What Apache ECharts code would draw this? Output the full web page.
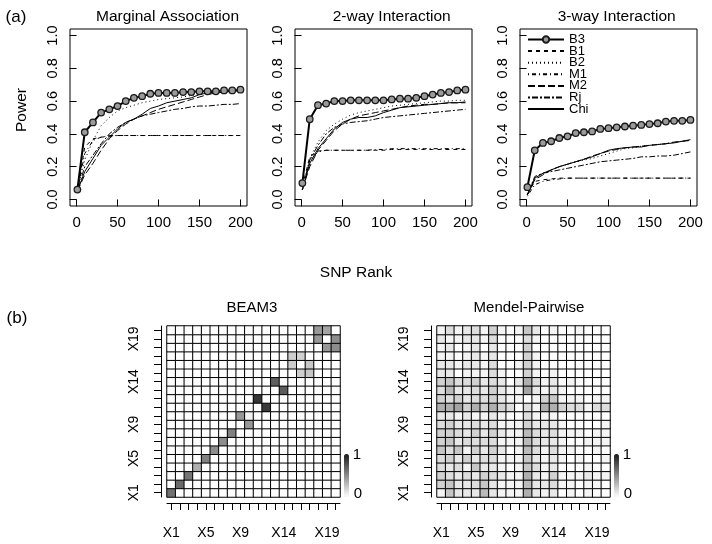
<!DOCTYPE html>
<html><head><meta charset="utf-8">
<script src="https://cdn.jsdelivr.net/npm/echarts@6/dist/echarts.min.js"></script>
<style>html,body{margin:0;padding:0;background:#fff}#c{width:712px;height:544px}</style>
</head><body><div id="c"></div>
<script>
// ---------- data ----------
const snpRank = [1,10,20,30,40,50,60,70,80,90,100,110,120,130,140,150,160,170,180,190,200];
const rankTicks = [0,50,100,150,200];
const powerTicks = [0,0.2,0.4,0.6,0.8,1.0];
const panelTitles = ['Marginal Association','2-way Interaction','3-way Interaction'];
const methods = ['B3','B1','B2','M1','M2','Rj','Chi'];

// Marginal association
const margB3  = [0.06,0.41,0.47,0.53,0.55,0.57,0.60,0.62,0.63,0.645,0.65,0.65,0.65,0.655,0.655,0.66,0.66,0.66,0.665,0.665,0.67];
const margB1  = [0.05,0.32,0.37,0.38,0.385,0.39,0.39,0.39,0.39,0.39,0.39,0.39,0.39,0.39,0.39,0.39,0.39,0.39,0.39,0.39,0.39];
const margB2  = [0.06,0.24,0.36,0.45,0.50,0.54,0.56,0.575,0.59,0.60,0.61,0.615,0.62,0.625,0.635,0.64,0.645,0.65,0.655,0.66,0.665];
const margM1  = [0.05,0.28,0.36,0.38,0.39,0.39,0.39,0.39,0.39,0.39,0.39,0.39,0.39,0.39,0.39,0.39,0.39,0.39,0.39,0.39,0.39];
const margM2  = [0.05,0.15,0.22,0.30,0.37,0.42,0.46,0.49,0.51,0.53,0.55,0.565,0.58,0.595,0.61,0.625,0.64,0.65,0.655,0.66,0.665];
const margRj  = [0.05,0.20,0.27,0.34,0.40,0.44,0.47,0.49,0.51,0.52,0.53,0.54,0.55,0.555,0.565,0.57,0.57,0.575,0.58,0.58,0.585];
const margChi = [0.05,0.17,0.25,0.33,0.38,0.43,0.47,0.49,0.52,0.555,0.57,0.59,0.60,0.61,0.62,0.64,0.65,0.655,0.66,0.66,0.665];

// 2-way interaction
const twoB3  = [0.10,0.49,0.575,0.585,0.60,0.60,0.605,0.605,0.605,0.605,0.605,0.61,0.615,0.615,0.62,0.63,0.64,0.65,0.655,0.665,0.67];
const twoB1  = [0.08,0.26,0.295,0.30,0.30,0.30,0.30,0.30,0.30,0.30,0.30,0.305,0.305,0.305,0.305,0.305,0.305,0.305,0.305,0.305,0.305];
const twoB2  = [0.06,0.25,0.35,0.42,0.46,0.49,0.515,0.53,0.54,0.55,0.56,0.57,0.575,0.58,0.585,0.59,0.595,0.60,0.60,0.605,0.605];
const twoM1  = [0.06,0.24,0.29,0.30,0.30,0.30,0.30,0.30,0.30,0.305,0.305,0.31,0.31,0.31,0.31,0.31,0.31,0.31,0.31,0.31,0.31];
const twoM2  = [0.06,0.20,0.30,0.36,0.42,0.46,0.49,0.51,0.52,0.53,0.54,0.55,0.56,0.57,0.575,0.58,0.58,0.585,0.59,0.59,0.59];
const twoRj  = [0.06,0.24,0.33,0.40,0.44,0.46,0.47,0.475,0.48,0.49,0.50,0.505,0.51,0.515,0.52,0.525,0.53,0.535,0.54,0.545,0.55];
const twoChi = [0.06,0.22,0.31,0.37,0.43,0.47,0.49,0.50,0.50,0.51,0.53,0.545,0.56,0.565,0.57,0.575,0.58,0.585,0.59,0.59,0.595];

// 3-way interaction
const threeB3  = [0.075,0.30,0.345,0.355,0.375,0.385,0.405,0.41,0.415,0.43,0.435,0.44,0.445,0.45,0.455,0.46,0.465,0.475,0.48,0.48,0.485];
const threeB1  = [0.03,0.11,0.12,0.125,0.13,0.13,0.13,0.13,0.13,0.13,0.13,0.13,0.13,0.13,0.13,0.13,0.13,0.13,0.13,0.13,0.13];
const threeB2  = [0.03,0.12,0.16,0.18,0.20,0.215,0.23,0.24,0.25,0.265,0.28,0.295,0.31,0.315,0.325,0.33,0.335,0.34,0.35,0.355,0.36];
const threeM1  = [0.02,0.09,0.11,0.12,0.125,0.13,0.13,0.13,0.13,0.13,0.13,0.13,0.13,0.13,0.13,0.13,0.13,0.13,0.13,0.13,0.13];
const threeM2  = [0.03,0.12,0.15,0.18,0.20,0.215,0.23,0.245,0.265,0.28,0.295,0.305,0.315,0.32,0.325,0.33,0.335,0.34,0.35,0.355,0.36];
const threeRj  = [0.03,0.14,0.16,0.17,0.18,0.19,0.20,0.21,0.22,0.23,0.235,0.24,0.245,0.25,0.26,0.26,0.265,0.265,0.27,0.28,0.29];
const threeChi = [0.03,0.13,0.16,0.18,0.20,0.215,0.23,0.245,0.26,0.28,0.30,0.31,0.315,0.32,0.32,0.33,0.335,0.34,0.345,0.355,0.365];

// SNP labels for heatmaps
const snpLabels = ['X1','X2','X3','X4','X5','X6','X7','X8','X9','X10','X11','X12','X13','X14','X15','X16','X17','X18','X19','X20'];
const shownSnpLabels = ['X1','X5','X9','X14','X19'];
const heatTitles = ['BEAM3','Mendel-Pairwise'];
const colorbarLabels = ['1','0'];

// BEAM3: non-zero cells [column SNP, row SNP, value] (1-based)
const beam3Cells = [
  [1,1,0.62],[2,2,0.65],[3,3,0.6],[4,4,0.35],[5,5,0.55],[6,6,0.5],[7,7,0.5],[8,8,0.55],
  [9,10,0.45],[10,9,0.45],[10,10,0.06],
  [11,12,0.88],[12,11,0.86],
  [13,14,0.7],[14,13,0.72],
  [15,17,0.22],[16,17,0.2],[15,16,0.22],[17,16,0.25],[16,15,0.22],[17,15,0.25],
  [18,20,0.45],[19,20,0.4],[18,19,0.45],[20,19,0.5],[19,18,0.45],[20,18,0.5]
];

// Mendel-Pairwise: rows X1..X20 (bottom to top), columns X1..X20
const mendelRows = [
  [0.05,0.25,0.1,0.1,0.1,0.3,0.1,0.05,0.05,0.05,0.35,0.1,0.05,0.1,0,0.05,0,0.05,0,0],
  [0.2,0.25,0.1,0.1,0.15,0.25,0.1,0.05,0.05,0.05,0.3,0.1,0.1,0.15,0.05,0.05,0,0.05,0.05,0],
  [0.2,0.15,0.1,0.15,0.1,0.2,0.15,0.1,0.05,0.05,0.35,0.1,0.05,0.2,0.05,0.05,0.05,0.1,0.05,0.05],
  [0.15,0.1,0.15,0.05,0.25,0.1,0.1,0.05,0,0.05,0.25,0.15,0.05,0.1,0,0,0,0.05,0,0],
  [0.15,0.2,0.1,0.2,0.1,0.15,0.15,0.05,0.05,0.05,0.25,0.1,0.05,0.1,0.05,0,0.05,0,0,0.05],
  [0.25,0.15,0.25,0.05,0.2,0.1,0.2,0.1,0,0.05,0.3,0.15,0.05,0.15,0.05,0.05,0,0,0.05,0],
  [0.2,0.25,0.1,0.15,0.15,0.15,0.15,0.05,0.05,0.05,0.3,0.15,0.1,0.1,0.05,0,0,0.05,0.05,0.05],
  [0.2,0.2,0.15,0.1,0.2,0.1,0.2,0.1,0.05,0.05,0.3,0.15,0.1,0.15,0.05,0.05,0.05,0,0.05,0.05],
  [0.15,0.2,0.1,0.1,0.15,0.1,0.15,0.05,0.05,0.05,0.2,0.1,0.1,0.1,0.05,0,0,0,0,0.05],
  [0.1,0.1,0.05,0.1,0.05,0.05,0.1,0.05,0,0,0.15,0.05,0.05,0.05,0,0,0,0,0,0],
  [0.35,0.35,0.4,0.2,0.35,0.2,0.35,0.2,0.15,0,0.15,0.05,0.35,0.35,0.2,0.15,0.15,0.05,0.15,0.15],
  [0.2,0.15,0.2,0.1,0.15,0.15,0.2,0.1,0.05,0.05,0,0.05,0.2,0.25,0.05,0.05,0.05,0,0.05,0.05],
  [0.15,0.3,0.1,0.1,0.15,0.1,0.2,0.1,0.05,0.05,0.4,0.1,0.05,0.1,0.05,0,0,0,0,0],
  [0.2,0.25,0.15,0.15,0.2,0.1,0.15,0.1,0,0.1,0.35,0.15,0.05,0.1,0,0.05,0,0,0,0],
  [0.1,0.1,0,0.05,0.05,0.05,0.15,0.05,0,0,0.2,0.05,0,0.05,0,0,0,0,0,0],
  [0.1,0.1,0.05,0.1,0.1,0.05,0.15,0,0,0.05,0.2,0.05,0,0,0,0,0,0,0,0],
  [0.05,0.05,0,0.05,0.1,0.05,0.1,0,0,0,0.2,0.05,0,0,0,0,0,0,0,0],
  [0.05,0.1,0,0.05,0.1,0,0.1,0,0,0,0.2,0,0,0,0,0,0,0,0,0],
  [0.1,0.05,0.05,0.1,0.1,0.05,0.15,0,0,0,0.15,0.05,0,0,0,0,0,0,0,0],
  [0.05,0.15,0.05,0.1,0.15,0.05,0.2,0.05,0,0.05,0.25,0.1,0,0.05,0,0,0.05,0,0,0]
];

// ---------- build ----------
const FONT = '"Liberation Sans", Arial, Helvetica, sans-serif';
const panels = [
  {B3: margB3, B1: margB1, B2: margB2, M1: margM1, M2: margM2, Rj: margRj, Chi: margChi},
  {B3: twoB3, B1: twoB1, B2: twoB2, M1: twoM1, M2: twoM2, Rj: twoRj, Chi: twoChi},
  {B3: threeB3, B1: threeB1, B2: threeB2, M1: threeM1, M2: threeM2, Rj: threeRj, Chi: threeChi}
];
const lineTypes = {B3:'solid', B1:[4,4], B2:[1,3], M1:[1,3,4,3], M2:[7,3], Rj:[2,2,6,2], Chi:'solid'};
const drawOrder = ['B1','B2','M1','M2','Rj','Chi','B3'];

const panelLeft = [70, 295, 520];
const grids = [], xAxes = [], yAxes = [], series = [];
panelLeft.forEach((l, i) => {
  grids.push({left: l, top: 29, width: 177, height: 177, show: true, borderColor: '#000', borderWidth: 1, backgroundColor: 'transparent'});
  xAxes.push({type: 'value', gridIndex: i, min: -8, max: 208,
    axisLine: {show: false}, splitLine: {show: false},
    axisTick: {show: true, customValues: rankTicks, length: 7, lineStyle: {color: '#000'}},
    axisLabel: {customValues: rankTicks, margin: 9, fontSize: 15, color: '#000', fontFamily: FONT}});
  yAxes.push({type: 'value', gridIndex: i, min: -0.04, max: 1.04,
    axisLine: {show: false}, splitLine: {show: false},
    axisTick: {show: true, customValues: powerTicks, length: 7, lineStyle: {color: '#000'}},
    axisLabel: {customValues: powerTicks, rotate: 90, margin: 10, fontSize: 14.5, color: '#000', fontFamily: FONT,
      formatter: v => Number(v).toFixed(1)}});
  drawOrder.forEach(m => {
    const isB3 = m === 'B3';
    series.push({type: 'line', name: m, xAxisIndex: i, yAxisIndex: i,
      data: snpRank.map((x, k) => [x, panels[i][m][k]]),
      symbol: isB3 ? 'circle' : 'none', symbolSize: 6.5, showSymbol: isB3,
      itemStyle: isB3 ? {color: '#9a9a9a', borderColor: '#1a1a1a', borderWidth: 1.3} : {color: '#000'},
      lineStyle: {color: '#000', width: isB3 ? 2 : 1, type: lineTypes[m]},
      silent: true, animation: false, z: isB3 ? 5 : 3});
  });
});

// heatmaps
const heatLeft = [167, 437];
const heatData = [
  (() => { const d = []; for (let r = 0; r < 20; r++) for (let c = 0; c < 20; c++) d.push([c, r, 0]);
    beam3Cells.forEach(([c, r, v]) => { d[(r - 1) * 20 + (c - 1)][2] = v; }); return d; })(),
  (() => { const d = []; mendelRows.forEach((row, r) => row.forEach((v, c) => d.push([c, r, v]))); return d; })()
];
const labelInterval = (idx, val) => shownSnpLabels.indexOf(val) >= 0;
heatLeft.forEach((l, j) => {
  const gi = 3 + j;
  grids.push({left: l, top: 326, width: 173, height: 171});
  xAxes.push({type: 'category', gridIndex: gi, data: snpLabels, offset: 6,
    axisLine: {show: true, lineStyle: {color: '#000'}},
    axisTick: {show: true, alignWithLabel: true, interval: 0, length: 7, lineStyle: {color: '#000'}},
    axisLabel: {interval: labelInterval, margin: 23, fontSize: 14, color: '#000', fontFamily: FONT},
    splitLine: {show: false}});
  yAxes.push({type: 'category', gridIndex: gi, data: snpLabels, offset: 6,
    axisLine: {show: true, lineStyle: {color: '#000'}},
    axisTick: {show: true, alignWithLabel: true, interval: 0, length: 7, lineStyle: {color: '#000'}},
    axisLabel: {interval: labelInterval, rotate: 90, margin: 20, fontSize: 14, color: '#000', fontFamily: FONT},
    splitLine: {show: false}});
  series.push({type: 'heatmap', name: heatTitles[j], xAxisIndex: gi, yAxisIndex: gi, data: heatData[j],
    itemStyle: {borderColor: '#000', borderWidth: 1}, silent: true, animation: false});
});
const heatSeriesIdx = [series.length - 2, series.length - 1];
const barLeft = [344, 614];
const visualMaps = heatSeriesIdx.map((si, j) => ({
  type: 'continuous', seriesIndex: si, min: 0, max: 1, orient: 'vertical',
  left: barLeft[j], top: 454, itemWidth: 5, itemHeight: 43, padding: 0,
  calculable: false, hoverLink: false, text: null, showLabel: false,
  inRange: {color: ['#ffffff', '#1a1a1a']}
}));

const txt = (x, y, s, size, extra) => Object.assign({type: 'text', x: x, y: y,
  style: {text: s, font: size + 'px ' + FONT, fill: '#000', textAlign: 'center', textVerticalAlign: 'middle'}}, extra || {});
const graphics = [
  txt(16, 17, '(a)', 17),
  txt(167.5, 17, panelTitles[0], 15.5),
  txt(391.7, 17, panelTitles[1], 15.5),
  txt(616.7, 17, panelTitles[2], 15.5),
  txt(22, 110, 'Power', 15.5, {rotation: Math.PI / 2}),
  txt(356, 273, 'SNP Rank', 15.5),
  txt(17, 318, '(b)', 17),
  txt(252, 308, heatTitles[0], 15),
  txt(529, 308, heatTitles[1], 15),
  txt(357, 455, colorbarLabels[0], 15),
  txt(358, 494, colorbarLabels[1], 15),
  txt(627, 455, colorbarLabels[0], 15),
  txt(628, 494, colorbarLabels[1], 15)
];

const legendData = methods.map(m => m === 'B3' ? {name: m} : {name: m, itemStyle: {opacity: 0}});

const chart = echarts.init(document.getElementById('c'), null, {renderer: 'canvas'});
chart.setOption({
  backgroundColor: '#fff',
  animation: false,
  textStyle: {fontFamily: FONT},
  grid: grids, xAxis: xAxes, yAxis: yAxes, series: series,
  visualMap: visualMaps,
  legend: {orient: 'vertical', left: 527, top: 33, padding: 0, itemWidth: 36, itemHeight: 8, itemGap: -1.4,
    selectedMode: false, data: legendData,
    textStyle: {fontSize: 13, lineHeight: 11, color: '#000', fontFamily: FONT}},
  graphic: graphics
});
</script></body></html>
